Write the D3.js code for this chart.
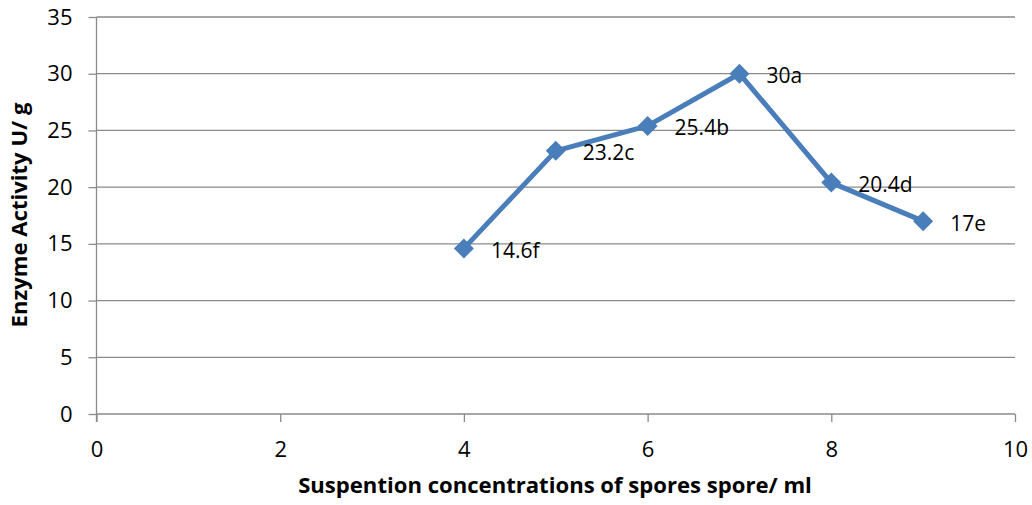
<!DOCTYPE html>
<html>
<head>
<meta charset="utf-8">
<script src="https://cdn.jsdelivr.net/npm/d3@7"></script>
<style>
  html, body { margin: 0; padding: 0; background: #fff; }
  svg { display: block; }
  text { font-family: "Open Sans", "Liberation Sans", sans-serif; fill: #000; }
</style>
</head>
<body>
<svg id="chart" width="1032" height="505"></svg>
<script>
// Spore suspension concentration vs. enzyme activity
const concentrations = [4, 5, 6, 7, 8, 9];
const activity = [14.6, 23.2, 25.4, 30, 20.4, 17];
const letters = ["f", "c", "b", "a", "d", "e"];
const xTicks = [0, 2, 4, 6, 8, 10];
const yTicks = [0, 5, 10, 15, 20, 25, 30, 35];

const xTitle = "Suspention concentrations of spores spore/ ml";
const yTitle = "Enzyme Activity U/ g";

const svg = d3.select("#chart");
const plot = { left: 96.5, right: 1015, top: 17, bottom: 414 };

const x = d3.scaleLinear().domain([0, 10]).range([plot.left, plot.right]);
const y = d3.scaleLinear().domain([0, 35]).range([plot.bottom, plot.top]);

const gridColor = "#8a8a8a";

// horizontal gridlines
svg.append("g").selectAll("line").data(yTicks).join("line")
  .attr("x1", plot.left).attr("x2", plot.right)
  .attr("y1", d => y(d)).attr("y2", d => y(d))
  .attr("stroke", gridColor).attr("stroke-width", 1.3);

// y axis ticks/labels
const yAxis = d3.axisLeft(y).tickValues(yTicks).tickSize(8).tickPadding(16).tickFormat(d3.format("d"));
const gy = svg.append("g").attr("transform", `translate(${plot.left},0)`).call(yAxis);
gy.select(".domain").remove();
gy.selectAll(".tick line").attr("stroke", gridColor).attr("stroke-width", 1.3);
gy.selectAll(".tick text").attr("font-size", 22)
  .style("font-family", "'Open Sans', sans-serif").attr("fill", "#000");

// y axis line
svg.append("line").attr("x1", plot.left).attr("x2", plot.left)
  .attr("y1", plot.top).attr("y2", plot.bottom + 8)
  .attr("stroke", gridColor).attr("stroke-width", 1.3);

// x axis
const xAxis = d3.axisBottom(x).tickValues(xTicks).tickSize(8).tickPadding(19).tickFormat(d3.format("d"));
const gx = svg.append("g").attr("transform", `translate(0,${plot.bottom})`).call(xAxis);
gx.select(".domain").remove();
gx.selectAll(".tick line").attr("stroke", gridColor).attr("stroke-width", 1.3);
gx.selectAll(".tick text").attr("font-size", 22)
  .style("font-family", "'Open Sans', sans-serif").attr("fill", "#000");

// series line
const lineColor = "#4a7ebb";
const pts = concentrations.map((c, i) => ({ c, v: activity[i], l: letters[i] }));
svg.append("path").datum(pts)
  .attr("fill", "none").attr("stroke", lineColor).attr("stroke-width", 5)
  .attr("stroke-linejoin", "round")
  .attr("d", d3.line().x(d => x(d.c)).y(d => y(d.v)));

// diamond markers
svg.append("g").selectAll("path").data(pts).join("path")
  .attr("transform", d => `translate(${x(d.c)},${y(d.v)})`)
  .attr("d", "M0,-10L10,0L0,10L-10,0Z")
  .attr("fill", lineColor);

// value labels
svg.append("g").selectAll("text").data(pts).join("text")
  .attr("x", d => x(d.c) + 27)
  .attr("y", d => y(d.v) + 2)
  .attr("dy", "0.36em")
  .attr("font-size", 21)
  .text(d => d3.format("")(d.v) + d.l);

// axis titles, sized to their allotted span
const xt = svg.append("text")
  .attr("x", 555).attr("y", 493)
  .attr("text-anchor", "middle").attr("font-weight", "bold")
  .attr("font-size", 20).text(xTitle);
const xw = xt.node().getComputedTextLength();
xt.attr("font-size", 20 * 514 / xw);

const yt = svg.append("text")
  .attr("transform", "translate(27,215) rotate(-90)")
  .attr("text-anchor", "middle").attr("font-weight", "bold")
  .attr("font-size", 20).text(yTitle);
const yw = yt.node().getComputedTextLength();
yt.attr("font-size", 20 * 225 / yw);
</script>
</body>
</html>
